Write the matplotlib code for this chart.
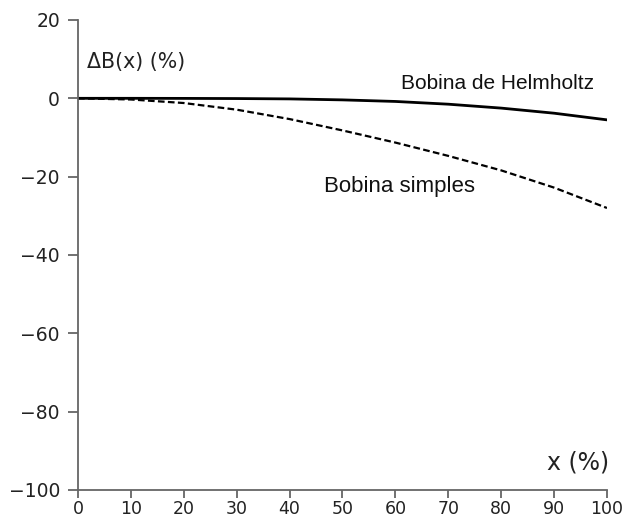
import matplotlib
matplotlib.use("Agg")
import matplotlib.pyplot as plt

# percent deviation of the field along the axis
x = [0, 10, 20, 30, 40, 50, 60, 70, 80, 90, 100]
helmholtz = [0, 0, -0.02, -0.06, -0.15, -0.4, -0.8, -1.5, -2.5, -3.8, -5.5]
simples = [0, -0.3, -1.2, -2.9, -5.3, -8.2, -11.3, -14.7, -18.4, -22.8, -28.0]

xticks = [0, 10, 20, 30, 40, 50, 60, 70, 80, 90, 100]
yticks = [-100, -80, -60, -40, -20, 0, 20]

fig = plt.figure(figsize=(6.26, 5.19), dpi=100)
ax = fig.add_axes([0.1246, 0.0559, 0.845, 0.9056])

ax.plot(x, helmholtz, color="black", linewidth=2)
ax.plot(x, simples, color="black", linewidth=1.6, linestyle=(0, (3, 1.5)))

ax.set_xlim(0, 100)
ax.set_ylim(-100, 20)
ax.set_xticks(xticks)
ax.set_yticks(yticks)
ax.set_yticklabels(["\u2212100", "\u221280", "\u221260", "\u221240", "\u221220", "0", "20"])

for side in ("top", "right"):
    ax.spines[side].set_visible(False)
for side in ("left", "bottom"):
    ax.spines[side].set_color("#666666")
    ax.spines[side].set_linewidth(1.3)
ax.tick_params(direction="out", length=7, width=1.3, color="#666666",
               labelsize=13.5, labelcolor="#222222")
ax.tick_params(axis="y", pad=6)
ax.tick_params(axis="x", pad=1.5, labelsize=12.5, length=6)

lbl = dict(family=["Liberation Sans", "DejaVu Sans"], color="#111111")
ax.text(1.7, 9.2, "\u0394B(x) (%)", fontsize=14.8, va="center", ha="left",
        family="DejaVu Sans", color="#222222")
ax.text(61, 3.8, "Bobina de Helmholtz", fontsize=15, va="center", ha="left", **lbl)
ax.text(46.5, -22.5, "Bobina simples", fontsize=16, va="center", ha="left", **lbl)
ax.text(100.5, -93, "x (%)", fontsize=17, va="center", ha="right",
        family="DejaVu Sans", color="#222222")

fig.savefig("out.png", dpi=100)
